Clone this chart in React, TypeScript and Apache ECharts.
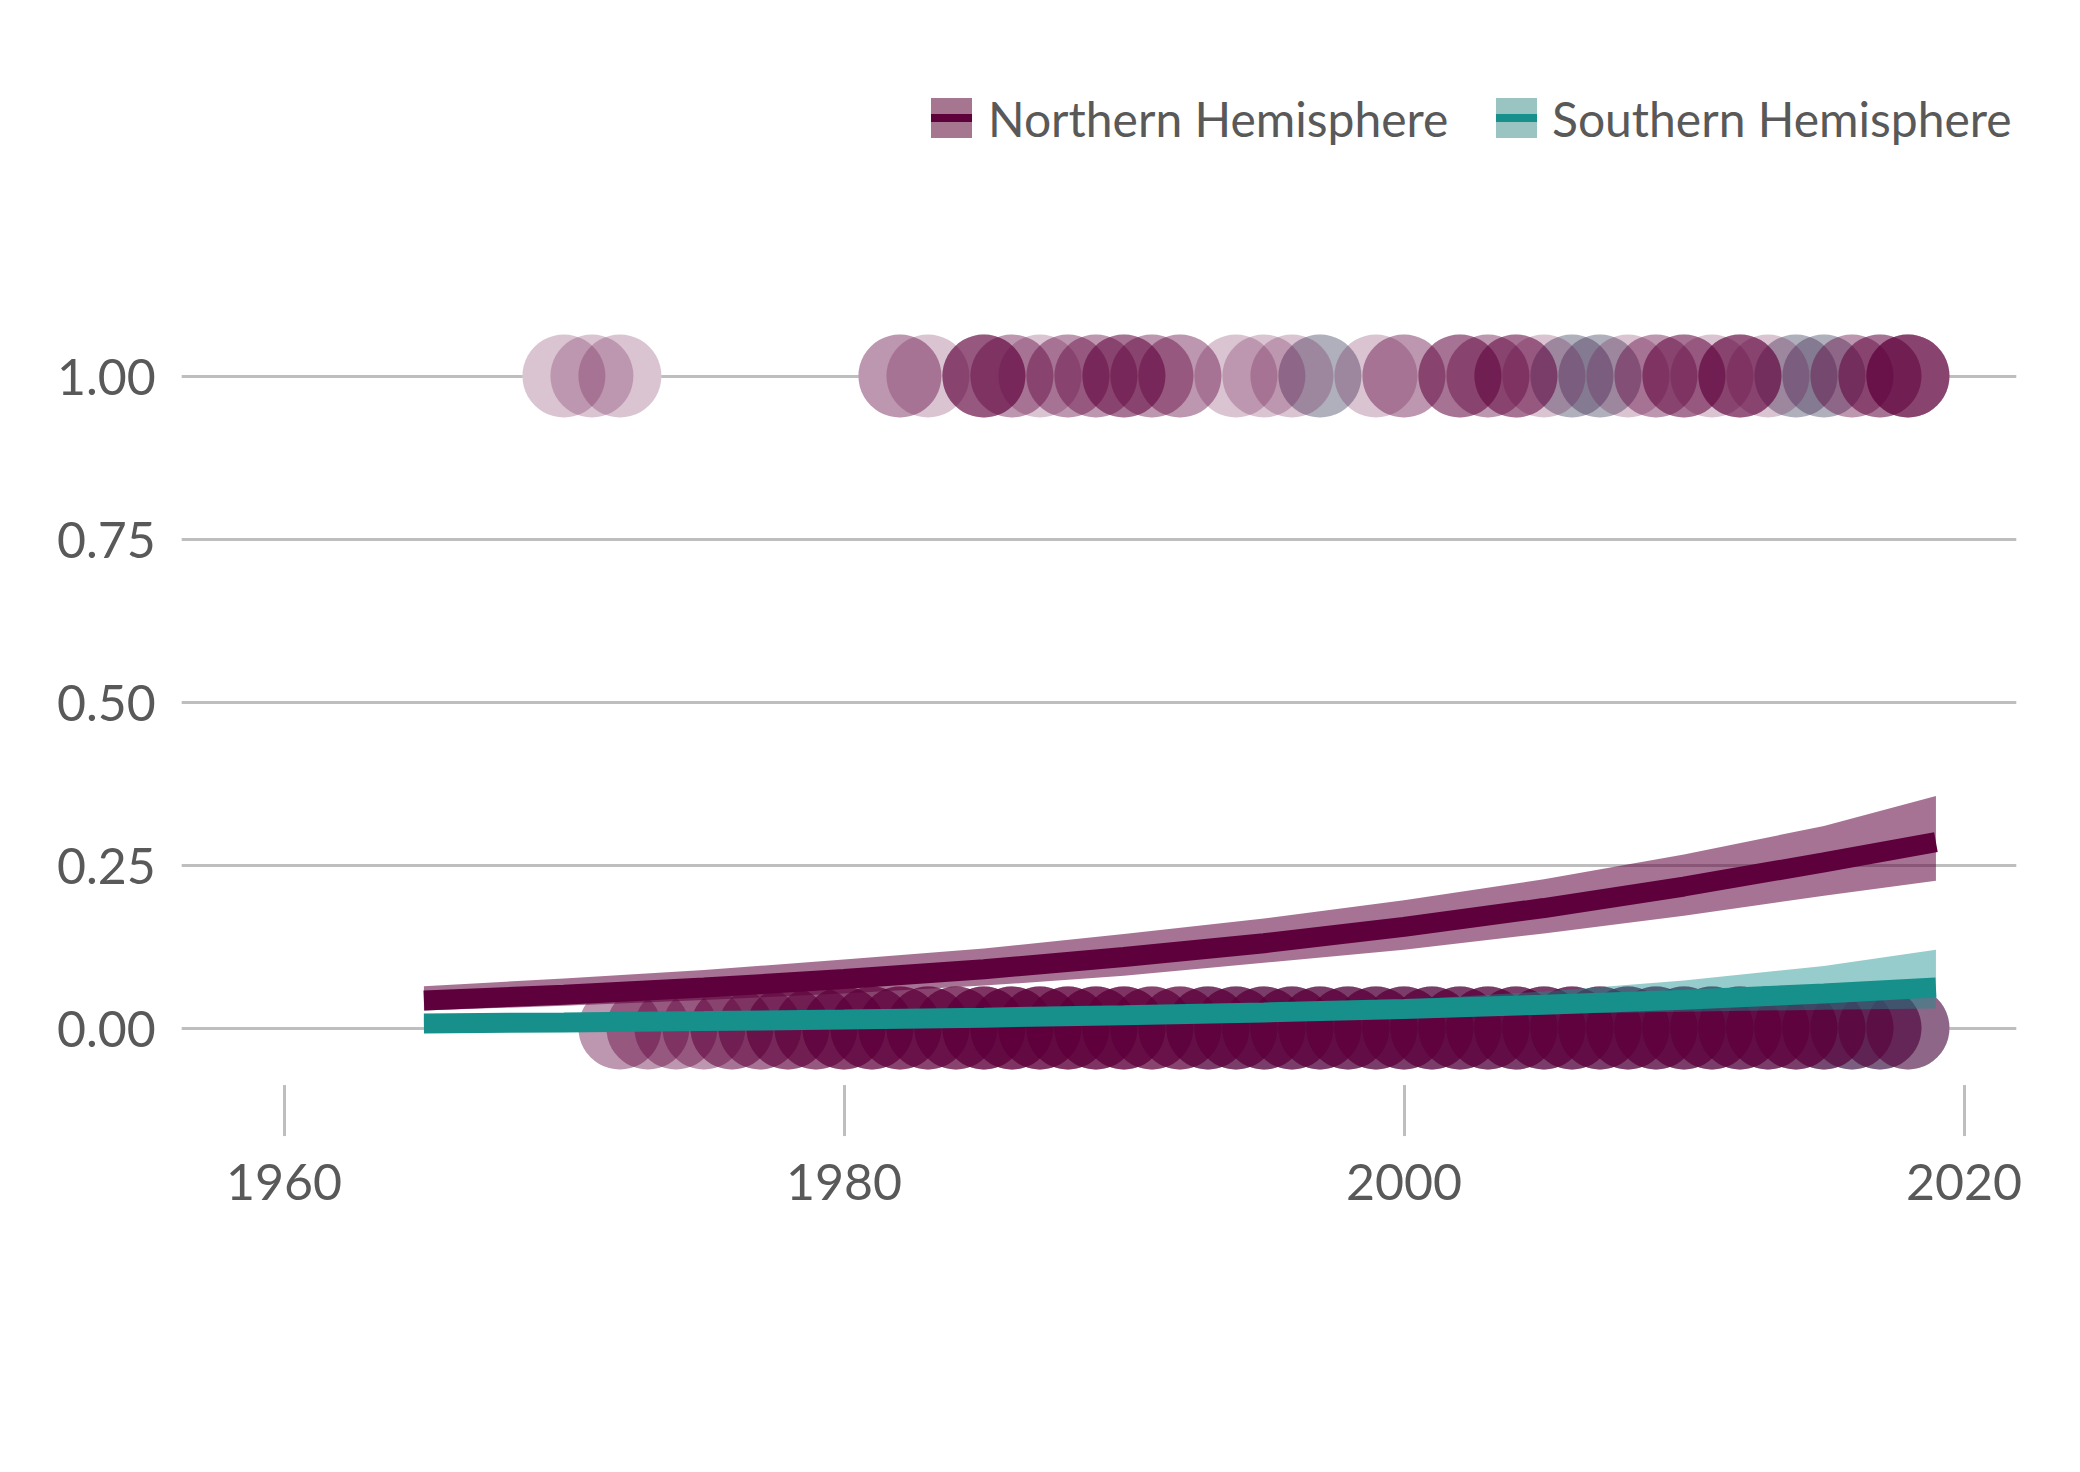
import React, { useEffect, useRef } from "react";
import * as echarts from "echarts";

// ---- fitted curves (read every 5 years) ----
const fitYears = [1965, 1970, 1975, 1980, 1985, 1990, 1995, 2000, 2005, 2010, 2015, 2019];
const northFit = [0.042, 0.051, 0.062, 0.075, 0.09, 0.109, 0.13, 0.155, 0.184, 0.217, 0.254, 0.285];
const northLow = [0.027, 0.034, 0.043, 0.053, 0.065, 0.08, 0.1, 0.12, 0.145, 0.172, 0.203, 0.226];
const northHigh = [0.064, 0.076, 0.089, 0.105, 0.122, 0.144, 0.168, 0.196, 0.228, 0.266, 0.31, 0.356];
const southFit = [0.007, 0.0086, 0.0106, 0.013, 0.0159, 0.0195, 0.0239, 0.0292, 0.0357, 0.0435, 0.0529, 0.062];
const southLow = [0.003, 0.004, 0.006, 0.008, 0.01, 0.013, 0.016, 0.019, 0.022, 0.025, 0.028, 0.03];
const southHigh = [0.016, 0.018, 0.019, 0.021, 0.024, 0.028, 0.034, 0.043, 0.056, 0.073, 0.095, 0.12];

// ---- observations: [year, count] ----
const northYes: [number, number][] = [
  [1970, 1], [1971, 1], [1972, 1], [1982, 2], [1983, 1], [1985, 4], [1986, 2], [1987, 1],
  [1988, 2], [1989, 2], [1990, 3], [1991, 2], [1992, 2], [1994, 1], [1995, 1], [1996, 1],
  [1997, 1], [1999, 1], [2000, 2], [2002, 3], [2003, 2], [2004, 3], [2005, 1], [2006, 1],
  [2007, 1], [2008, 1], [2009, 2], [2010, 3], [2011, 1], [2012, 4], [2013, 1], [2014, 1],
  [2015, 1], [2016, 2], [2017, 3], [2018, 5],
];
const southYes: [number, number][] = [[1997, 1], [2006, 1], [2007, 1], [2014, 1], [2015, 1]];
const northNo: [number, number][] = [
  [1972, 2], [1973, 2], [1974, 2], [1975, 2], [1976, 3], [1977, 3], [1978, 4], [1979, 4],
  [1980, 5], [1981, 5], [1982, 5], [1983, 5], [1984, 5], [1985, 6], [1986, 6], [1987, 6],
  [1988, 6], [1989, 6], [1990, 6], [1991, 5], [1992, 5], [1993, 5], [1994, 5], [1995, 5],
  [1996, 5], [1997, 5], [1998, 5], [1999, 5], [2000, 5], [2001, 5], [2002, 5], [2003, 5],
  [2004, 5], [2005, 5], [2006, 5], [2007, 5], [2008, 5], [2009, 5], [2010, 5], [2011, 5],
  [2012, 5], [2013, 5], [2014, 5], [2015, 4], [2016, 3], [2017, 3], [2018, 3],
];
const southNo: [number, number][] = [
  [1993, 1], [1994, 1], [1995, 1], [1996, 1], [1997, 1], [1998, 1], [1999, 1], [2000, 1],
  [2001, 1], [2002, 1], [2003, 1], [2004, 1], [2005, 1], [2006, 1], [2007, 1], [2008, 1],
  [2009, 1], [2010, 1], [2011, 1], [2012, 1], [2013, 1], [2014, 1], [2015, 2], [2016, 2],
  [2017, 2], [2018, 1],
];

const xTicks = [1960, 1980, 2000, 2020];
const yTicks = [0, 0.25, 0.5, 0.75, 1];

const PURPLE = "#5E003C";
const TEAL = "#178F8B";
const TEXT = "#595959";
const GRID = "#BEBEBE";
const FONT = "Lato, 'Noto Sans', sans-serif";
const DOT = 83;

function expand(rows: [number, number][], outcome: number) {
  const out: number[][] = [];
  rows.forEach(([yr, c]) => {
    for (let i = 0; i < c; i++) out.push([yr, outcome]);
  });
  return out;
}

function band(lo: number[], hi: number[], color: string, z: number) {
  return {
    type: "custom",
    z,
    silent: true,
    data: fitYears.map((y, i) => [y, lo[i], hi[i]]),
    encode: { x: 0, y: [1, 2] },
    renderItem: (params: any, api: any) => {
      if (params.dataIndex !== 0) return null;
      const upper = fitYears.map((y, i) => api.coord([y, hi[i]]));
      const lower = fitYears.map((y, i) => api.coord([y, lo[i]])).reverse();
      return { type: "polygon", shape: { points: upper.concat(lower) }, style: { fill: color } };
    },
  };
}

export default function App() {
  const ref = useRef<HTMLDivElement>(null);
  useEffect(() => {
    if (!ref.current) return;
    const chart = echarts.init(ref.current, undefined, { renderer: "svg" });
    const nY = expand(northYes, 1);
    const sY = expand(southYes, 1);
    const nN = expand(northNo, 0);
    const sN = expand(southNo, 0);
    const seen: Record<string, boolean> = {};
    const under: number[][] = [];
    [...nY, ...sY, ...nN, ...sN].forEach((p) => {
      const k = p.join(",");
      if (!seen[k]) {
        seen[k] = true;
        under.push(p);
      }
    });
    const scatter = (data: number[][], color: string, z: number) => ({
      type: "scatter",
      data,
      symbol: "circle",
      symbolSize: DOT,
      silent: true,
      z,
      itemStyle: { color, opacity: 1 },
    });
    chart.setOption({
      animation: false,
      backgroundColor: "#ffffff",
      grid: {
        left: 181.7,
        right: 63.7,
        top: 278.2,
        bottom: 386.95,
        containLabel: false,
        outerBoundsMode: "none",
      },
      xAxis: {
        type: "value",
        min: 1956.35,
        max: 2021.87,
        splitLine: { show: false },
        axisLine: { show: false, onZero: false },
        axisTick: {
          show: true,
          length: 51,
          lineStyle: { color: GRID, width: 3 },
          customValues: xTicks,
        },
        axisLabel: {
          customValues: xTicks,
          fontSize: 50,
          color: TEXT,
          margin: 71,
          fontFamily: FONT,
          formatter: (v: number) => String(v),
        },
      },
      yAxis: {
        type: "value",
        min: -0.0875,
        max: 1.15,
        show: false,
        splitLine: { show: false },
      },
      series: [
        {
          type: "line",
          data: [],
          z: 1,
          silent: true,
          markLine: {
            z: 1,
            silent: true,
            symbol: ["none", "none"],
            lineStyle: { color: GRID, width: 3, type: "solid" },
            label: {
              show: true,
              position: "start",
              distance: 26,
              fontSize: 50,
              color: TEXT,
              fontFamily: FONT,
              formatter: (p: any) => Number(p.value).toFixed(2),
            },
            data: yTicks.map((v) => ({ yAxis: v })),
          },
        },
        scatter(under, "#ffffff", 2),
        scatter(sY, "rgba(23,143,139,0.23)", 3),
        scatter(sN, "rgba(23,143,139,0.23)", 3),
        scatter(nY, "rgba(94,0,60,0.23)", 4),
        scatter(nN, "rgba(94,0,60,0.23)", 4),
        band(northLow, northHigh, "rgba(94,0,60,0.55)", 5),
        band(southLow, southHigh, "rgba(23,143,139,0.45)", 5),
        {
          type: "line",
          data: fitYears.map((y, i) => [y, northFit[i]]),
          symbol: "none",
          showSymbol: false,
          silent: true,
          z: 6,
          lineStyle: { color: PURPLE, width: 20 },
        },
        {
          type: "line",
          data: fitYears.map((y, i) => [y, southFit[i]]),
          symbol: "none",
          showSymbol: false,
          silent: true,
          z: 6,
          lineStyle: { color: TEAL, width: 20 },
        },
      ],
      graphic: [
        { type: "rect", shape: { x: 931, y: 98, width: 41, height: 40 }, style: { fill: "#A67590" } },
        { type: "rect", shape: { x: 931, y: 114, width: 41, height: 8 }, style: { fill: PURPLE } },
        {
          type: "text",
          x: 988,
          y: 118,
          style: { text: "Northern Hemisphere", fontSize: 48, fill: TEXT, fontFamily: FONT, verticalAlign: "middle", align: "left" },
        },
        { type: "rect", shape: { x: 1496, y: 98, width: 41, height: 40 }, style: { fill: "#99C4C2" } },
        { type: "rect", shape: { x: 1496, y: 114, width: 41, height: 8 }, style: { fill: TEAL } },
        {
          type: "text",
          x: 1552,
          y: 118,
          style: { text: "Southern Hemisphere", fontSize: 48, fill: TEXT, fontFamily: FONT, verticalAlign: "middle", align: "left" },
        },
      ],
    });
    return () => chart.dispose();
  }, []);
  return (
    <div
      ref={ref}
      style={{ position: "fixed", left: 0, top: 0, width: 2080, height: 1472, background: "#fff" }}
    />
  );
}
